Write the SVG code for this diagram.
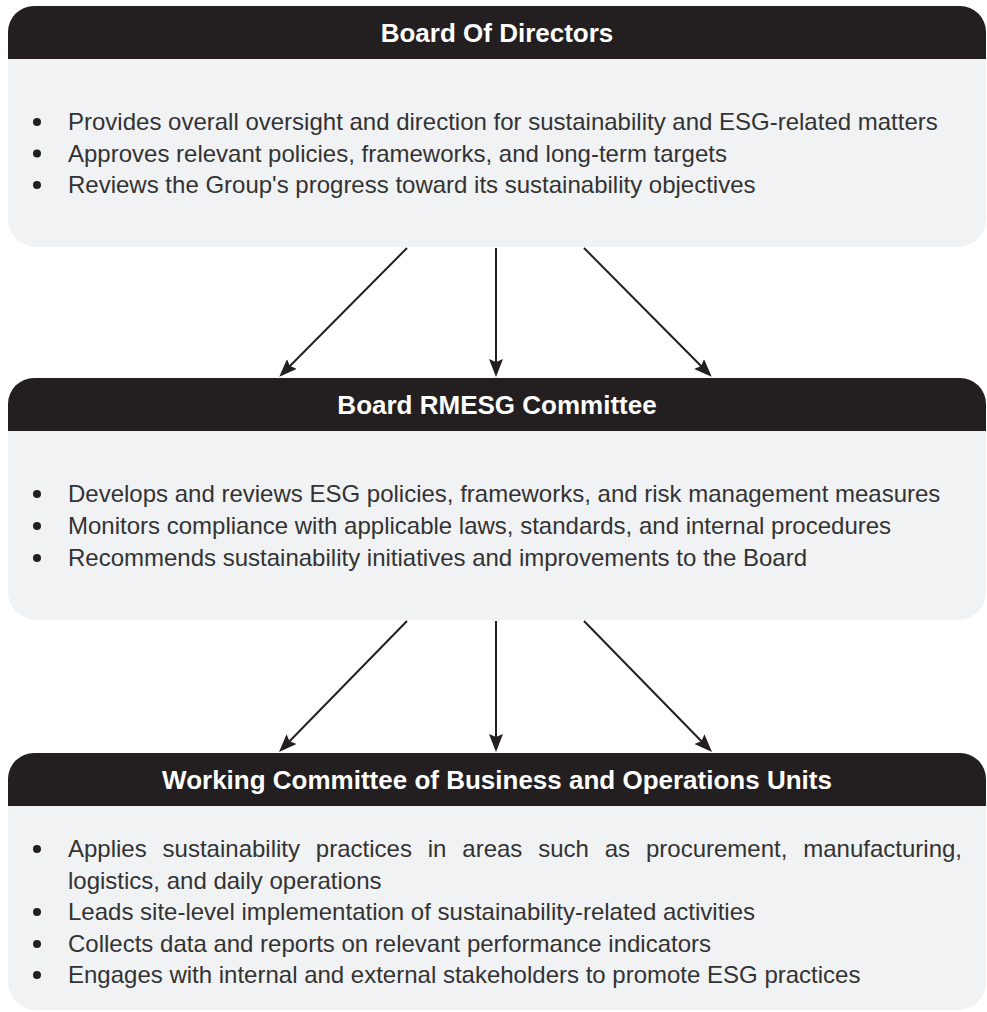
<svg xmlns="http://www.w3.org/2000/svg" width="987" height="1012" viewBox="0 0 987 1012">
  <style>
    .hdr { fill: #231f20; }
    .body { fill: #f1f2f4; }
    .title { font-family: "Liberation Sans", Arial, sans-serif; font-weight: bold; font-size: 26px; fill: #ffffff; text-anchor: middle; }
    .item { font-family: "Liberation Sans", Arial, sans-serif; font-size: 24px; fill: #333333; }
    .dot { fill: #231f20; }
    .conn { stroke: #231f20; stroke-width: 2; fill: none; marker-end: url(#arrow); }
  </style>
  <defs>
    <marker id="arrow" viewBox="0 0 18 14" markerWidth="18" markerHeight="14" refX="12" refY="7" orient="auto" markerUnits="userSpaceOnUse">
      <path d="M0,0 L18,7 L0,14 L3,7 Z" fill="#231f20"/>
    </marker>
  </defs>

  <rect width="987" height="1012" fill="#ffffff"/>

  <!-- Board Of Directors -->
  <g id="board-of-directors">
    <path class="hdr" d="M8,59 V32 A26,26 0 0 1 34,6 H960 A26,26 0 0 1 986,32 V59 Z"/>
    <path class="body" d="M8,59 H986 V219 A28,28 0 0 1 958,247 H36 A28,28 0 0 1 8,219 Z"/>
    <text class="title" x="497" y="42">Board Of Directors</text>
    <circle class="dot" cx="37" cy="122" r="4"/>
    <circle class="dot" cx="37" cy="153.5" r="4"/>
    <circle class="dot" cx="37" cy="185" r="4"/>
    <text class="item" x="68" y="130">Provides overall oversight and direction for sustainability and ESG-related matters</text>
    <text class="item" x="68" y="161.5">Approves relevant policies, frameworks, and long-term targets</text>
    <text class="item" x="68" y="193">Reviews the Group's progress toward its sustainability objectives</text>
  </g>

  <!-- Board RMESG Committee -->
  <g id="board-rmesg-committee">
    <path class="hdr" d="M8,431 V404 A26,26 0 0 1 34,378 H960 A26,26 0 0 1 986,404 V431 Z"/>
    <path class="body" d="M8,431 H986 V592 A28,28 0 0 1 958,620 H36 A28,28 0 0 1 8,592 Z"/>
    <text class="title" x="497" y="414">Board RMESG Committee</text>
    <circle class="dot" cx="37" cy="494" r="4"/>
    <circle class="dot" cx="37" cy="526" r="4"/>
    <circle class="dot" cx="37" cy="558" r="4"/>
    <text class="item" x="68" y="502">Develops and reviews ESG policies, frameworks, and risk management measures</text>
    <text class="item" x="68" y="534">Monitors compliance with applicable laws, standards, and internal procedures</text>
    <text class="item" x="68" y="566">Recommends sustainability initiatives and improvements to the Board</text>
  </g>

  <!-- Working Committee of Business and Operations Units -->
  <g id="working-committee">
    <path class="hdr" d="M8,806 V779 A26,26 0 0 1 34,753 H960 A26,26 0 0 1 986,779 V806 Z"/>
    <path class="body" d="M8,806 H986 V982 A28,28 0 0 1 958,1010 H36 A28,28 0 0 1 8,982 Z"/>
    <text class="title" x="497" y="789">Working Committee of Business and Operations Units</text>
    <circle class="dot" cx="37" cy="849" r="4"/>
    <circle class="dot" cx="37" cy="912" r="4"/>
    <circle class="dot" cx="37" cy="944" r="4"/>
    <circle class="dot" cx="37" cy="975" r="4"/>
    <text class="item" x="68" y="857" word-spacing="9.2">Applies sustainability practices in areas such as procurement, manufacturing,</text>
    <text class="item" x="68" y="888.5">logistics, and daily operations</text>
    <text class="item" x="68" y="920">Leads site-level implementation of sustainability-related activities</text>
    <text class="item" x="68" y="952">Collects data and reports on relevant performance indicators</text>
    <text class="item" x="68" y="983">Engages with internal and external stakeholders to promote ESG practices</text>
  </g>

  <!-- Connectors -->
  <g id="connectors">
    <path class="conn" d="M407,248 L283.5,372.5"/>
    <path class="conn" d="M496,248 L496,371"/>
    <path class="conn" d="M584,248 L707.5,372.5"/>
    <path class="conn" d="M407,621 L283.2,747.7"/>
    <path class="conn" d="M496,621 L496,746"/>
    <path class="conn" d="M584,621 L707.8,747.7"/>
  </g>
</svg>
